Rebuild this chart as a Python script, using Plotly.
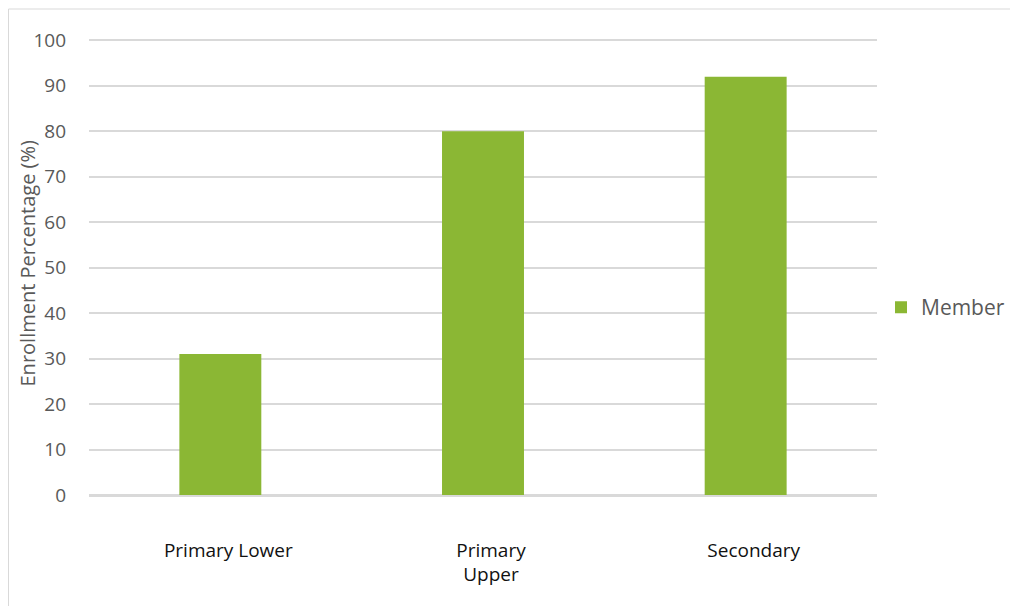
import plotly.graph_objects as go

categories = ["Primary Lower", "Primary<br>Upper", "Secondary"]
member_values = [31, 80, 92]
y_ticks = [0, 10, 20, 30, 40, 50, 60, 70, 80, 90, 100]

FONT = "Open Sans"
GRID = "#d9d9d9"
GREEN = "#8bb734"

L, R, T, B = 81, 149, 30, 119
W, H = 1018, 606
pw, ph = W - L - R, H - T - B

fig = go.Figure()
fig.add_trace(go.Bar(
    x=categories, y=member_values, name="Member",
    marker=dict(color=GREEN, line=dict(width=0)),
    showlegend=True,
))

fig.update_layout(
    width=W, height=H,
    margin=dict(l=L, r=R, t=T, b=B, autoexpand=False),
    paper_bgcolor="white", plot_bgcolor="white",
    bargap=0.688,
    font=dict(family=FONT, color="#595959"),
    showlegend=True,
    legend=dict(x=1.0 + 4 / pw, y=0.41, xanchor="left", yanchor="middle",
                font=dict(size=21, color="#595959", family=FONT),
                bgcolor="rgba(0,0,0,0)", itemwidth=30),
    xaxis=dict(
        showgrid=False, showline=True, linecolor=GRID, linewidth=1.5,
        ticks="", tickfont=dict(size=19, color="#111111", family=FONT),
        ticklabelstandoff=37, ticklabelshift=8,
    ),
    yaxis=dict(
        range=[0, 100.5], tickvals=y_ticks, showgrid=True, gridcolor=GRID, gridwidth=1.5,
        zeroline=True, zerolinecolor=GRID, zerolinewidth=1.5,
        showline=False, ticks="", ticklabelstandoff=22,
        tickfont=dict(size=19, color="#595959", family=FONT),
    ),
    annotations=[dict(
        text="Enrollment Percentage (%)", textangle=-90,
        xref="paper", yref="paper", x=(19 - L) / pw, y=(H - B - 255.5) / ph,
        xanchor="center", yanchor="middle", showarrow=False,
        font=dict(size=20, color="#595959", family=FONT),
    )],
    shapes=[dict(type="rect", xref="paper", yref="paper",
                 x0=(0.5 - L) / pw, x1=1.5, y0=-0.5, y1=(H - B - 1) / ph,
                 line=dict(color=GRID, width=1), layer="below")],
)

fig.write_html("out.html")
